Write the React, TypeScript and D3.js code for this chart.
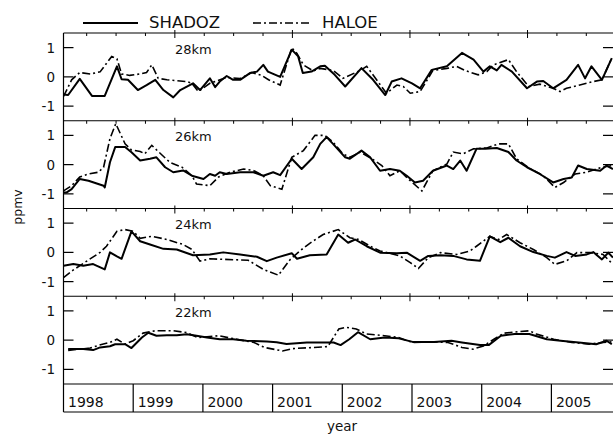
import React from 'react';
import * as d3 from 'd3';

// time in months since Jan 1998, value in ppmv
const s28: [number, number][] = [[0,-0.6],[0.8,-0.62],[2.8,-0.07],[4.9,-0.65],[7.1,-0.65],[9.2,0.36],[10.0,-0.08],[11.1,-0.1],[12.8,-0.45],[14.3,-0.28],[15.8,-0.1],[17.2,-0.45],[18.9,-0.7],[20.1,-0.45],[22.3,-0.22],[23.5,-0.45],[25.2,-0.05],[26.1,-0.35],[26.9,-0.16],[28.1,0.03],[29.2,-0.1],[30.4,-0.1],[32.1,0.13],[33.3,0.18],[34.4,0.41],[35.2,0.18],[37.3,0.0],[39.3,0.93],[40.4,0.7],[41.2,0.13],[42.7,0.18],[44.2,0.36],[45.0,0.38],[46.7,0.07],[48.5,-0.33],[51.3,0.3],[53.3,-0.1],[55.4,-0.62],[56.5,-0.16],[58.2,-0.05],[60.0,-0.22],[61.4,-0.39],[63.4,0.24],[66.0,0.36],[68.6,0.82],[70.6,0.59],[72.3,0.18],[73.4,0.36],[74.6,0.22],[75.4,0.41],[77.2,0.18],[79.8,-0.39],[81.5,-0.16],[82.6,-0.14],[84.3,-0.39],[86.6,-0.1],[88.6,0.41],[89.8,-0.05],[90.9,0.36],[92.7,-0.1],[94.4,0.64]];
const h28: [number, number][] = [[0,-0.67],[1.4,-0.1],[2.8,0.15],[4.6,0.1],[6.3,0.17],[8.3,0.7],[9.2,0.62],[10.0,0.1],[11.4,0.05],[13.2,0.1],[14.3,0.15],[15.2,0.41],[16.3,-0.05],[17.8,-0.1],[21.2,-0.16],[22.1,-0.22],[23.2,-0.5],[24.4,-0.33],[25.2,-0.22],[28.1,-0.02],[30.4,-0.06],[32.4,0.15],[34.1,0.05],[35.3,-0.1],[37.3,-0.28],[39.3,0.99],[40.2,0.8],[41.3,0.41],[43.0,0.2],[44.2,0.29],[46.4,0.22],[48.1,-0.05],[51.1,0.22],[52.2,0.36],[55.6,-0.56],[57.4,-0.28],[58.5,-0.33],[59.7,-0.56],[61.4,-0.5],[63.6,0.22],[66.0,0.29],[67.7,0.36],[69.1,0.22],[71.4,0.07],[72.9,0.18],[74.0,0.41],[76.6,0.59],[78.0,0.18],[80.1,-0.33],[82.0,-0.25],[84.3,-0.39],[85.5,-0.5],[86.6,-0.39],[88.9,-0.28],[91.2,-0.16],[92.7,-0.1],[94.4,0.64]];

const s26: [number, number][] = [[0,-0.95],[0.55,-0.95],[1.4,-0.84],[2.8,-0.49],[4.3,-0.55],[6.9,-0.72],[7.1,-0.78],[8.0,0.08],[8.9,0.6],[10.6,0.6],[11.7,0.42],[13.2,0.14],[14.9,0.2],[16.0,0.25],[17.5,-0.09],[18.9,-0.26],[20.6,-0.2],[22.1,-0.38],[24.1,-0.49],[25.2,-0.32],[26.1,-0.38],[26.9,-0.26],[28.1,-0.32],[30.4,-0.26],[32.7,-0.26],[34.4,-0.38],[36.1,-0.26],[37.3,-0.36],[39.3,0.2],[41.0,-0.15],[43.0,0.25],[44.2,0.71],[45.3,0.94],[46.4,0.71],[48.5,0.25],[49.3,0.2],[51.3,0.48],[52.8,0.25],[54.5,-0.21],[56.2,-0.15],[57.9,-0.21],[59.1,-0.38],[60.5,-0.61],[61.9,-0.55],[63.6,-0.21],[66.0,-0.03],[67.1,-0.15],[68.3,0.14],[69.4,-0.21],[71.1,0.54],[72.6,0.54],[74.6,0.57],[76.6,0.43],[78.0,0.14],[79.8,-0.09],[82.0,-0.32],[84.3,-0.61],[86.1,-0.49],[87.5,-0.44],[88.6,-0.03],[90.1,-0.15],[92.4,-0.21],[93.5,-0.03],[94.6,-0.15]];
const h26: [number, number][] = [[0,-0.9],[1.4,-0.72],[2.8,-0.42],[4.3,-0.32],[6.0,-0.26],[6.9,-0.09],[8.0,0.89],[9.0,1.4],[10.6,0.71],[11.7,0.5],[13.2,0.45],[14.0,0.37],[15.2,0.66],[16.3,0.45],[18.3,0.08],[20.4,-0.09],[22.1,-0.38],[22.9,-0.66],[25.2,-0.72],[26.7,-0.42],[28.7,-0.26],[31.0,-0.15],[32.7,-0.2],[34.4,-0.38],[35.6,-0.72],[37.6,-0.84],[39.3,0.25],[41.3,0.48],[43.3,1.0],[45.0,1.0],[46.4,0.77],[48.1,0.37],[49.3,0.25],[51.1,0.43],[53.1,0.2],[54.8,-0.03],[56.2,-0.38],[57.9,-0.21],[59.7,-0.55],[61.7,-0.9],[63.6,-0.21],[66.0,0.02],[67.1,0.43],[68.8,0.37],[70.6,0.54],[72.9,0.57],[74.9,0.71],[76.6,0.71],[78.0,0.2],[80.4,-0.15],[82.6,-0.38],[84.6,-0.78],[86.1,-0.61],[88.1,-0.32],[90.1,-0.26],[92.7,-0.09],[94.6,-0.03]];

const s24: [number, number][] = [[0,-0.46],[1.7,-0.4],[3.4,-0.46],[5.1,-0.4],[7.1,-0.58],[8.0,0.0],[9.2,-0.14],[10.0,-0.22],[11.7,0.72],[13.2,0.38],[14.9,0.27],[17.2,0.12],[19.5,0.1],[22.3,-0.1],[25.2,-0.07],[27.5,0.0],[30.4,-0.07],[33.3,-0.15],[35.0,-0.3],[36.7,-0.18],[39.3,-0.03],[40.2,-0.22],[42.4,-0.1],[45.3,-0.07],[47.3,0.61],[49.0,0.33],[50.2,0.44],[52.2,0.21],[54.5,-0.01],[57.4,-0.03],[59.1,-0.01],[61.4,-0.29],[62.8,-0.12],[64.9,-0.1],[67.1,-0.12],[69.4,-0.24],[71.7,-0.29],[73.4,0.55],[75.2,0.35],[76.6,0.5],[78.6,0.21],[80.9,0.01],[83.2,-0.12],[84.6,-0.18],[86.6,0.01],[88.1,-0.12],[90.1,-0.07],[91.2,0.01],[92.7,-0.24],[93.8,-0.01],[94.6,-0.18]];
const h24: [number, number][] = [[0,-0.86],[1.7,-0.6],[4.0,-0.3],[6.3,0.0],[7.4,0.21],[9.2,0.72],[10.6,0.78],[12.0,0.72],[13.2,0.48],[15.2,0.55],[17.8,0.44],[20.6,0.27],[22.1,0.1],[23.5,-0.3],[25.2,-0.22],[29.2,-0.25],[31.8,-0.27],[34.4,-0.58],[37.0,-0.78],[39.0,-0.25],[40.7,0.05],[42.4,0.31],[44.7,0.61],[47.3,0.78],[49.3,0.5],[50.8,0.44],[52.8,0.21],[54.5,0.05],[57.9,-0.12],[59.7,-0.35],[61.1,-0.55],[62.8,-0.18],[64.9,-0.01],[67.7,-0.07],[70.0,0.05],[71.1,0.21],[73.4,0.55],[74.9,0.44],[76.3,0.61],[78.6,0.33],[80.9,0.1],[83.2,-0.18],[84.6,-0.41],[86.6,-0.29],[88.4,-0.01],[90.7,-0.01],[92.9,-0.07],[94.6,-0.41]];

const s22: [number, number][] = [[0.8,-0.3],[3.4,-0.3],[5.1,-0.34],[6.3,-0.25],[8.0,-0.21],[8.9,-0.14],[10.6,-0.14],[11.7,-0.27],[13.5,0.09],[14.6,0.25],[16.0,0.15],[17.8,0.17],[19.5,0.17],[21.2,0.2],[22.9,0.15],[24.7,0.09],[26.9,0.03],[29.2,0.03],[31.5,-0.02],[35.0,-0.05],[36.7,-0.07],[38.4,-0.13],[41.9,-0.08],[46.5,-0.08],[47.7,-0.17],[49.2,0.03],[50.7,0.27],[52.8,0.03],[55.3,0.09],[57.7,0.06],[60.1,-0.06],[63.8,-0.06],[66.8,-0.02],[68.6,-0.08],[71.7,-0.17],[73.2,-0.17],[75.3,0.15],[77.7,0.21],[80.2,0.21],[83.2,0.03],[85.6,-0.02],[88.7,-0.08],[91.7,-0.14],[93.5,-0.02],[94.4,-0.14]];
const h22: [number, number][] = [[0.8,-0.35],[4.6,-0.27],[6.7,-0.14],[8.0,-0.08],[9.2,0.03],[10.6,-0.14],[12.0,-0.02],[13.7,0.24],[15.8,0.32],[18.9,0.32],[21.2,0.26],[23.1,0.09],[26.7,0.15],[29.8,0.03],[32.8,-0.08],[34.6,-0.25],[37.7,-0.37],[39.5,-0.29],[43.1,-0.25],[45.5,-0.22],[47.4,0.38],[48.6,0.44],[50.4,0.38],[52.2,0.21],[55.3,0.15],[57.7,0.09],[60.1,-0.08],[63.8,-0.06],[66.2,-0.08],[68.6,-0.25],[70.5,-0.31],[72.3,-0.2],[74.1,0.03],[75.9,0.24],[78.4,0.29],[80.2,0.32],[81.4,0.21],[84.4,0.03],[87.5,-0.08],[90.5,-0.14],[92.9,-0.08],[94.4,-0.06]];

const panelLabels = ['28km', '26km', '24km', '22km'];
const shadozSeries = [s28, s26, s24, s22];
const haloeSeries = [h28, h26, h24, h22];
const years = ['1998', '1999', '2000', '2001', '2002', '2003', '2004', '2005'];
const yTicks = [1, 0, -1];
const yTickLabels = ['1', '0', '-1'];

const W = 613, H = 435;
const L = 63.5, R = 613, TOP = 33, PH = 87.75;
const BOX_TOP = TOP + 4 * PH, BOX_BOT = 412;
const FONT = '"DejaVu Sans", sans-serif';
const DASH = '8,3,2,3';

export default function App() {
  const x = d3.scaleLinear().domain([0, 96]).range([L, L + 8 * 69.7]);
  const tickMonths = d3.range(1, 19).map(k => 5.06 * k - 1.07);
  return (
    <svg width={W} height={H} style={{ position: 'absolute', left: 0, top: 0, background: '#fff' }}>
      <rect width={W} height={H} fill="#fff" />
      <defs>
        <clipPath id="plotclip">
          <rect x={L} y={TOP} width={R - L} height={4 * PH} />
        </clipPath>
      </defs>
      {/* legend */}
      <line x1={83} x2={138} y1={23} y2={23} stroke="#000" strokeWidth={2} />
      <text x={149} y={28} fontFamily={FONT} fontSize={16.5} fill="#111">SHADOZ</text>
      <line x1={253} x2={310} y1={23} y2={23} stroke="#000" strokeWidth={1.6} strokeDasharray={DASH} />
      <text x={322} y={28} fontFamily={FONT} fontSize={16.5} fill="#111">HALOE</text>

      {panelLabels.map((lab, i) => {
        const top = TOP + i * PH;
        const y = d3.scaleLinear().domain([-1.5, 1.5]).range([top + PH, top]);
        const line = d3.line<[number, number]>().x(d => x(d[0])).y(d => y(d[1]));
        return (
          <g key={lab}>
            <line x1={L} x2={R} y1={top} y2={top} stroke="#000" strokeWidth={1.2} />
            {tickMonths.map((m, k) => {
              const major = (k + 1) % 4 === 0;
              return <line key={k} x1={x(m)} x2={x(m)} y1={top - (major ? 3 : 0)} y2={top + (major ? 5 : 3)} stroke="#000" strokeWidth={1} />;
            })}
            {yTicks.map((v, j) => (
              <g key={v}>
                <line x1={L} x2={L + 10} y1={y(v)} y2={y(v)} stroke="#000" strokeWidth={1.2} />
                <line x1={R - 10} x2={R} y1={y(v)} y2={y(v)} stroke="#000" strokeWidth={1.2} />
                <text x={55} y={y(v) + 5} textAnchor="end" fontFamily={FONT} fontSize={13.5} fill="#111">{yTickLabels[j]}</text>
              </g>
            ))}
            <text x={175} y={top + 20.5} fontFamily={FONT} fontSize={13} fill="#111">{lab}</text>
            <g clipPath="url(#plotclip)">
              <path d={line(haloeSeries[i]) || ''} fill="none" stroke="#000" strokeWidth={1.6} strokeDasharray={DASH} />
              <path d={line(shadozSeries[i]) || ''} fill="none" stroke="#000" strokeWidth={2} strokeLinejoin="round" />
            </g>
          </g>
        );
      })}
      {/* left border */}
      <line x1={L} x2={L} y1={TOP} y2={BOX_BOT} stroke="#000" strokeWidth={1.2} />
      {/* year box */}
      <line x1={L} x2={R} y1={BOX_TOP} y2={BOX_TOP} stroke="#000" strokeWidth={1.2} />
      <line x1={L} x2={R} y1={BOX_BOT} y2={BOX_BOT} stroke="#000" strokeWidth={1.2} />
      {years.map((yr, k) => (
        <g key={yr}>
          {k > 0 && <line x1={x(12 * k)} x2={x(12 * k)} y1={BOX_TOP} y2={BOX_BOT} stroke="#000" strokeWidth={1.2} />}
          <text x={x(12 * k) + 4.5} y={BOX_TOP + 22.5} fontFamily={FONT} fontSize={14} fill="#111">{yr}</text>
        </g>
      ))}
      <text x={342} y={431} textAnchor="middle" fontFamily={FONT} fontSize={13.5} fill="#111">year</text>
      <text transform="translate(22,207) rotate(-90)" textAnchor="middle" fontFamily={FONT} fontSize={12.5} fill="#111">ppmv</text>
    </svg>
  );
}
